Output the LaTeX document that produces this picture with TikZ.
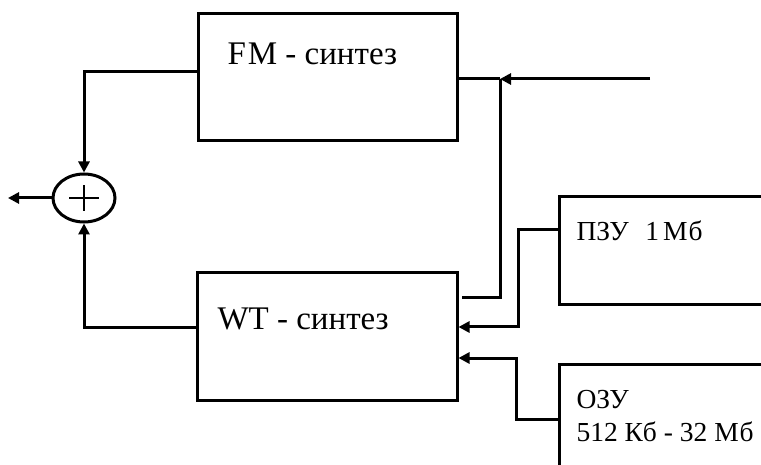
\documentclass[tikz,border=0pt]{standalone}
\usepackage{fontspec}
\setmainfont{Liberation Serif}
\usetikzlibrary{arrows.meta,shapes.geometric}
\begin{document}
\begin{tikzpicture}[x=1pt,y=-1pt,
  line width=3pt,
  blk/.style={draw,rectangle,inner sep=0pt,line width=3pt},
  txt/.style={inner sep=0pt,anchor=base west,font=\fontsize{33}{37}\selectfont},
  stxt/.style={inner sep=0pt,anchor=base west,font=\fontsize{27.5}{32}\selectfont},
  arr/.style={-{Triangle[length=11pt,width=11pt]}},
  sumst/.style={draw,ellipse,inner sep=0pt,minimum width=62pt,minimum height=48pt,line width=3pt}]
\clip (0,0) rectangle (761,465);
\fill[white] (0,0) rectangle (761,465);
% blocks
\node[blk,minimum width=259pt,minimum height=127pt] (FM) at (327.5,77.5) {};
\node[blk,minimum width=260pt,minimum height=127pt] (WT) at (327,336.5) {};
\node[blk,minimum width=260pt,minimum height=108pt,anchor=north west] (PZU) at (558,195) {};
\node[blk,minimum width=260pt,minimum height=160pt,anchor=north west] (OZU) at (558,363) {};
\node[sumst] (sum) at (84,198) {};
% texts
\node[txt] (fmT) at (226,65) {F\kern2pt M - синтез};
\node[txt] (wtT) at (216,330) {WT - синтез};
\node[stxt] (pzuT) at (575,241) {ПЗУ\hspace{0.35em} 1\kern4pt М\kern1pt б};
\node[stxt] (ozuT) at (575,408) {ОЗУ};
\node[stxt] (ozuT2) at (575,441) {512 Кб - 32 М\kern1pt б};
% plus sign
\draw[line width=1.1pt] ([xshift=-15pt]sum.center) -- ([xshift=15pt]sum.center);
\draw[line width=1.1pt] ([yshift=-13pt]sum.center) -- ([yshift=13pt]sum.center);
% coordinates
\coordinate (out) at (8,198);
\coordinate (in) at (650,79);
\coordinate (j) at (500,79);
\coordinate (jb) at (500,298);
\coordinate (p1) at (518,230);
\coordinate (p2) at (518,327);
\coordinate (q1) at (516,419);
\coordinate (q2) at (516,358);
\coordinate (fmo) at (0,72);
\coordinate (wto) at (0,328);
% connectors
\draw[arr] (FM.west |- fmo) -| (sum.north);
\draw[arr] (WT.west |- wto) -| (sum.south);
\draw[arr] (sum.west) -- (out);
\draw[arr] (in) -- (j);
\draw (FM.east |- j) -- (j);
\draw[shorten >=3pt] (j) -- (jb) -- (WT.east |- jb);
\draw[arr] (PZU.west |- p1) -- (p1) -- (p2) -- (WT.east |- p2);
\draw[arr] (OZU.west |- q1) -- (q1) -- (q2) -- (WT.east |- q2);
\end{tikzpicture}
\end{document}
